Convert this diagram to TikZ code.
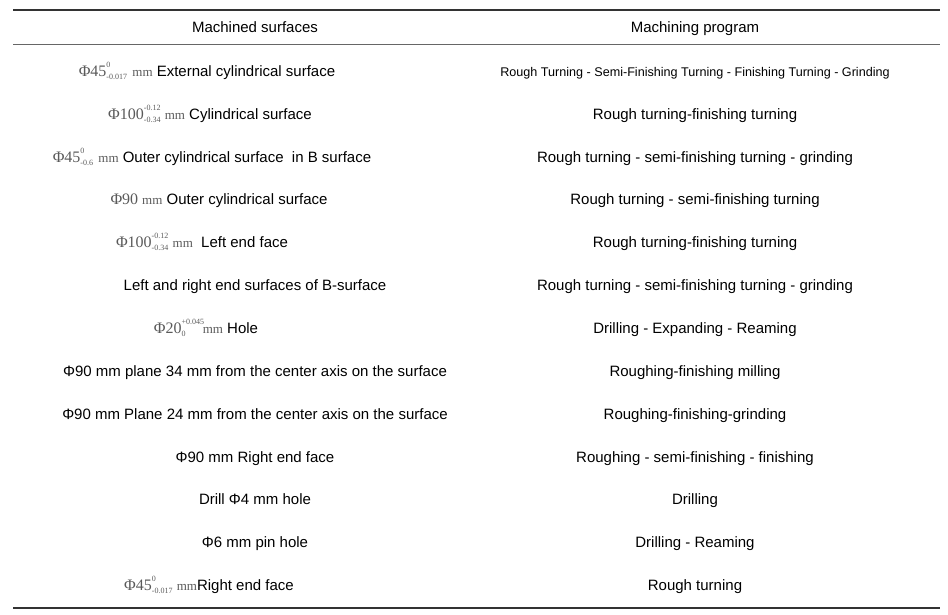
\documentclass[tikz,border=0pt]{standalone}
\usepackage{fontspec}
\setmainfont{Liberation Sans}
\newfontfamily\dimfont{Liberation Serif}
\usetikzlibrary{positioning}
\definecolor{dimgray}{RGB}{90,90,90}
% dimension with stacked tolerances
\newcommand{\tolsize}[4]{{\dimfont\color{dimgray}\fontsize{16}{16}\selectfont Φ#1%
  \fontsize{8}{8}\selectfont\rlap{\raisebox{1.05em}{#2}}\raisebox{-0.45em}{#3}%
  \fontsize{13}{13}\selectfont\hspace{#4} mm}}

\begin{document}
\begin{tikzpicture}[x=1pt,y=-1pt]
  \tikzset{cell/.style={font=\fontsize{15}{18}\selectfont, inner sep=0pt, anchor=base},
           rule/.style={line width=2pt, black!80}}
  \useasboundingbox (0,0) rectangle (948,614);

  \draw[rule] (13,10) -- (940,10);
  \draw[line width=0.8pt, black!60] (13,44) -- (940,44);
  \draw[rule] (13,608) -- (940,608);

  % header
  \node[cell] (h1) at (255,32) {Machined surfaces};
  \node[cell] (h2) at (695,32) {Machining program};

  % machined surfaces
  \node[cell] (s1) at (207,76) {\tolsize{45}{0}{-0.017}{2pt} External cylindrical surface};
  \node[cell] (s2) at (210,119) {\tolsize{100}{-0.12}{-0.34}{1pt} Cylindrical surface};
  \node[cell] (s3) at (212,162) {\tolsize{45}{0}{-0.6}{2pt} Outer cylindrical surface\ \ in B surface};
  \node[cell] (s4) at (219,204) {{\dimfont\color{dimgray}\fontsize{16}{16}\selectfont Φ90 \fontsize{13}{13}\selectfont mm} Outer cylindrical surface};
  \node[cell] (s5) at (202,247) {\tolsize{100}{-0.12}{-0.34}{1pt}\ \ Left end face};
  \node[cell] (s6) at (255,290) {Left and right end surfaces of B-surface};
  \node[cell] (s7) at (206,333) {\tolsize{20}{+0.045}{0}{14pt} Hole};
  \node[cell] (s8) at (255,376) {Φ90 mm plane 34 mm from the center axis on the surface};
  \node[cell] (s9) at (255,419) {Φ90 mm Plane 24 mm from the center axis on the surface};
  \node[cell] (s10) at (255,462) {Φ90 mm Right end face};
  \node[cell] (s11) at (255,504) {Drill Φ4 mm hole};
  \node[cell] (s12) at (255,547) {Φ6 mm pin hole};
  \node[cell] (s13) at (209,590) {\tolsize{45}{0}{-0.017}{1pt}Right end face};

  % machining programs
  \node[cell, font=\fontsize{12.6}{15}\selectfont] (p1) at (695,76) {Rough Turning - Semi-Finishing Turning - Finishing Turning - Grinding};
  \node[cell] (p2) at (695,119) {Rough turning-finishing turning};
  \node[cell] (p3) at (695,162) {Rough turning - semi-finishing turning - grinding};
  \node[cell] (p4) at (695,204) {Rough turning - semi-finishing turning};
  \node[cell] (p5) at (695,247) {Rough turning-finishing turning};
  \node[cell] (p6) at (695,290) {Rough turning - semi-finishing turning - grinding};
  \node[cell] (p7) at (695,333) {Drilling - Expanding - Reaming};
  \node[cell] (p8) at (695,376) {Roughing-finishing milling};
  \node[cell] (p9) at (695,419) {Roughing-finishing-grinding};
  \node[cell] (p10) at (695,462) {Roughing - semi-finishing - finishing};
  \node[cell] (p11) at (695,504) {Drilling};
  \node[cell] (p12) at (695,547) {Drilling - Reaming};
  \node[cell] (p13) at (695,590) {Rough turning};
\end{tikzpicture}
\end{document}
